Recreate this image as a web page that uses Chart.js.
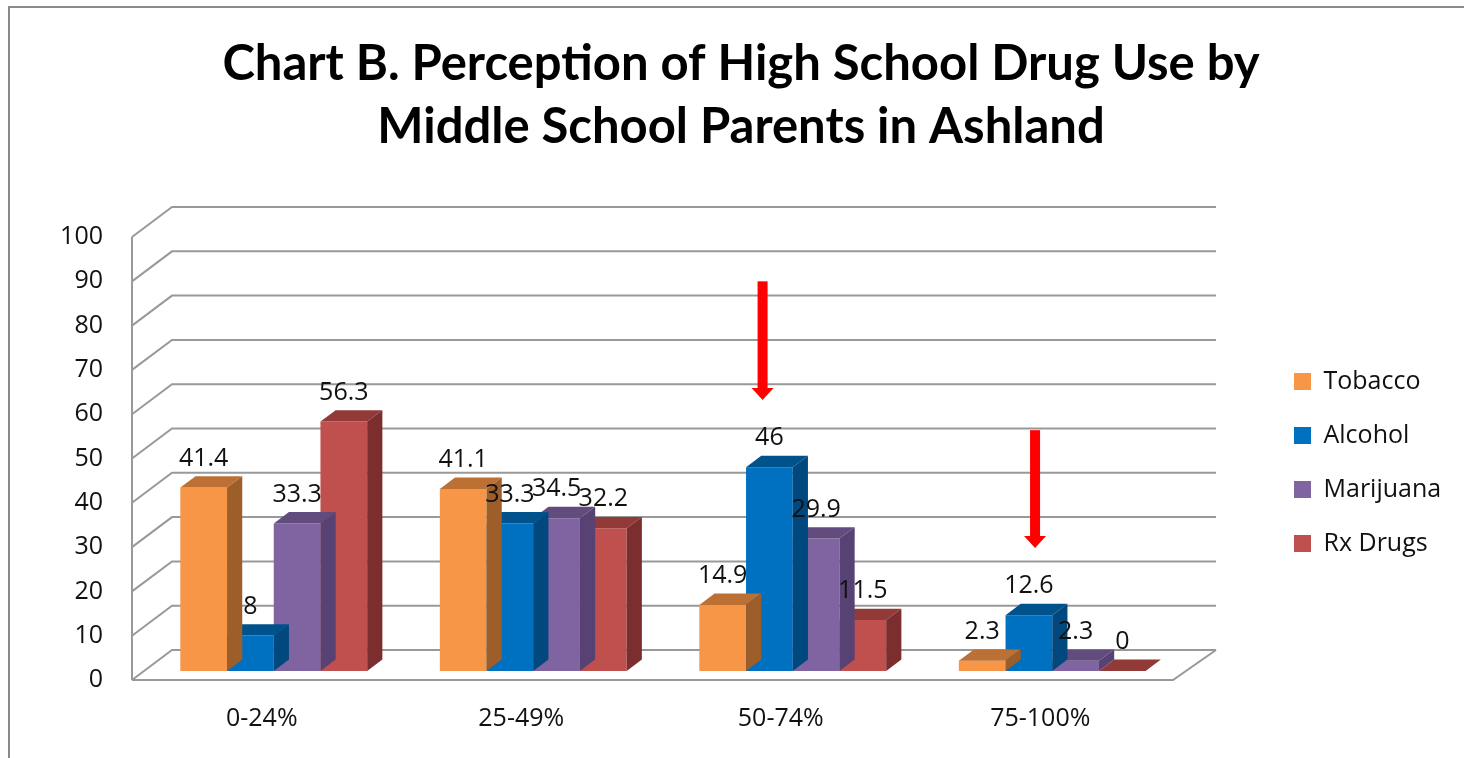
<!DOCTYPE html>
<html>
<head>
<meta charset="utf-8">
<script src="https://cdn.jsdelivr.net/npm/chart.js@4.4.1/dist/chart.umd.min.js"></script>
<style>
  html, body { margin: 0; padding: 0; background: #fff; }
</style>
</head>
<body>
<canvas id="chart" width="1464" height="758"></canvas>
<script>
// data
const categories = ["0-24%", "25-49%", "50-74%", "75-100%"];
const seriesNames = ["Tobacco", "Alcohol", "Marijuana", "Rx Drugs"];
const tobacco = [41.4, 41.1, 14.9, 2.3];
const alcohol = [8, 33.3, 46, 12.6];
const marijuana = [33.3, 34.5, 29.9, 2.3];
const rxDrugs = [56.3, 32.2, 11.5, 0];
const yMin = 0, yMax = 100, yStep = 10;

// red arrows (category position, from value, to value)
const arrowAt = [1.93, 2.98];
const arrowFrom = [90, 56.4];
const arrowTo = [63.2, 29.8];

const frontColors = ["#F79646", "#0070C0", "#8064A2", "#C0504D"];
const topColors = ["#BC7034", "#00528C", "#624C7D", "#923A38"];
const sideColors = ["#9D5E2A", "#00487D", "#584274", "#7C2E2E"];

const depth = { x: 40, y: -30 };   // wall depth
const barShift = 0.3;              // bars front face position inside the depth
const barDepth = 0.38;
const gridColor = "#999999";
const bodyFont = { family: "Open Sans", size: 25 };

const threeD = {
  id: "threeD",
  beforeInit(chart) {
    const legend = chart.legend;
    const fit = legend.fit;
    legend.fit = function () {
      fit.call(this);
      this.width = 294;
    };
  },
  afterLayout(chart) {
    const legend = chart.legend;
    legend.left = chart.chartArea.right + 95;
    legend.top += 4;
    legend.bottom += 4;
  },
  beforeDraw(chart) {
    const ctx = chart.ctx;
    ctx.save();
    ctx.strokeStyle = "#898989";
    ctx.lineWidth = 2;
    ctx.beginPath();
    ctx.moveTo(9, chart.height);
    ctx.lineTo(9, 7);
    ctx.lineTo(chart.width, 7);
    ctx.stroke();
    ctx.restore();
  },
  beforeDatasetsDraw(chart) {
    const ctx = chart.ctx;
    const area = chart.chartArea;
    const y = chart.scales.y;
    ctx.save();
    ctx.strokeStyle = gridColor;
    ctx.lineWidth = 2;
    // back wall gridlines and left wall diagonals
    y.ticks.forEach(t => {
      const py = y.getPixelForValue(t.value);
      ctx.beginPath();
      ctx.moveTo(area.left, py);
      ctx.lineTo(area.left + depth.x, py + depth.y);
      ctx.lineTo(area.right + depth.x + 6, py + depth.y);
      ctx.stroke();
    });
    // left wall front edge
    ctx.beginPath();
    ctx.moveTo(area.left, y.getPixelForValue(yMax));
    ctx.lineTo(area.left, y.getPixelForValue(yMin));
    ctx.stroke();
    // floor
    const p0 = y.getPixelForValue(yMin);
    ctx.beginPath();
    ctx.moveTo(area.left, p0);
    ctx.lineTo(area.right + 3, p0);
    ctx.lineTo(area.right + depth.x + 6, p0 + depth.y);
    ctx.stroke();
    ctx.restore();

    ctx.save();
    ctx.translate(depth.x * barShift, depth.y * barShift);
  },
  afterDatasetDraw(chart, args) {
    const ctx = chart.ctx;
    const i = args.index;
    const dx = depth.x * barDepth, dy = depth.y * barDepth;
    args.meta.data.forEach(bar => {
      const { x, y, base, width } = bar.getProps(["x", "y", "base", "width"], true);
      const l = x - width / 2, r = x + width / 2;
      ctx.fillStyle = topColors[i];
      ctx.beginPath();
      ctx.moveTo(l, y);
      ctx.lineTo(r, y);
      ctx.lineTo(r + dx, y + dy);
      ctx.lineTo(l + dx, y + dy);
      ctx.closePath();
      ctx.fill();
      ctx.fillStyle = sideColors[i];
      ctx.beginPath();
      ctx.moveTo(r, y);
      ctx.lineTo(r + dx, y + dy);
      ctx.lineTo(r + dx, base + dy);
      ctx.lineTo(r, base);
      ctx.closePath();
      ctx.fill();
    });
  },
  afterDatasetsDraw(chart) {
    const ctx = chart.ctx;
    ctx.font = bodyFont.size + "px '" + bodyFont.family + "'";
    ctx.fillStyle = "#111";
    ctx.textAlign = "center";
    ctx.textBaseline = "middle";
    chart.data.datasets.forEach((ds, i) => {
      chart.getDatasetMeta(i).data.forEach((bar, j) => {
        ctx.fillText(String(ds.data[j]), bar.x, bar.y - 29);
      });
    });
    ctx.restore();
  },
  afterDraw(chart) {
    const ctx = chart.ctx;
    const xs = chart.scales.x, ys = chart.scales.y;
    ctx.save();
    ctx.fillStyle = "#FF0000";
    arrowAt.forEach((c, k) => {
      const x = xs.getPixelForValue(c);
      const top = ys.getPixelForValue(arrowFrom[k]);
      const tip = ys.getPixelForValue(arrowTo[k]);
      ctx.fillRect(x - 5, top, 10, tip - 12 - top);
      ctx.beginPath();
      ctx.moveTo(x - 11, tip - 12);
      ctx.lineTo(x + 11, tip - 12);
      ctx.lineTo(x, tip);
      ctx.closePath();
      ctx.fill();
    });
    ctx.restore();
  }
};

const series = [tobacco, alcohol, marijuana, rxDrugs];

new Chart(document.getElementById("chart"), {
  type: "bar",
  data: {
    labels: categories,
    datasets: series.map((data, i) => ({
      label: seriesNames[i],
      data: data,
      backgroundColor: frontColors[i],
      borderWidth: 0,
      categoryPercentage: 0.72,
      barPercentage: 1,
      clip: false
    }))
  },
  options: {
    responsive: false,
    animation: false,
    devicePixelRatio: 1,
    layout: { padding: { left: 18, right: 0, top: 0, bottom: 0 } },
    plugins: {
      title: {
        display: true,
        text: ["Chart B. Perception of High School Drug Use by", "Middle School Parents in Ashland"],
        color: "#000",
        font: { family: "Lato", size: 49, weight: "bold", lineHeight: 1.286 },
        padding: { top: 33, bottom: 78 }
      },
      legend: {
        position: "right",
        fullSize: false,
        labels: {
          boxWidth: 17,
          boxHeight: 17,
          padding: 29,
          color: "#111",
          font: bodyFont
        }
      },
      tooltip: { enabled: false }
    },
    scales: {
      x: {
        grid: { display: false, drawTicks: false },
        border: { display: false },
        ticks: { color: "#111", font: bodyFont, padding: 24, maxRotation: 0 },
        afterFit(scale) { scale.height = 78; }
      },
      y: {
        min: yMin,
        max: yMax,
        grid: { display: false, drawTicks: false },
        border: { display: false },
        ticks: { stepSize: yStep, color: "#111", font: bodyFont, padding: 29 },
        afterFit(scale) { scale.width = 114; }
      }
    }
  },
  plugins: [threeD]
});
</script>
</body>
</html>
